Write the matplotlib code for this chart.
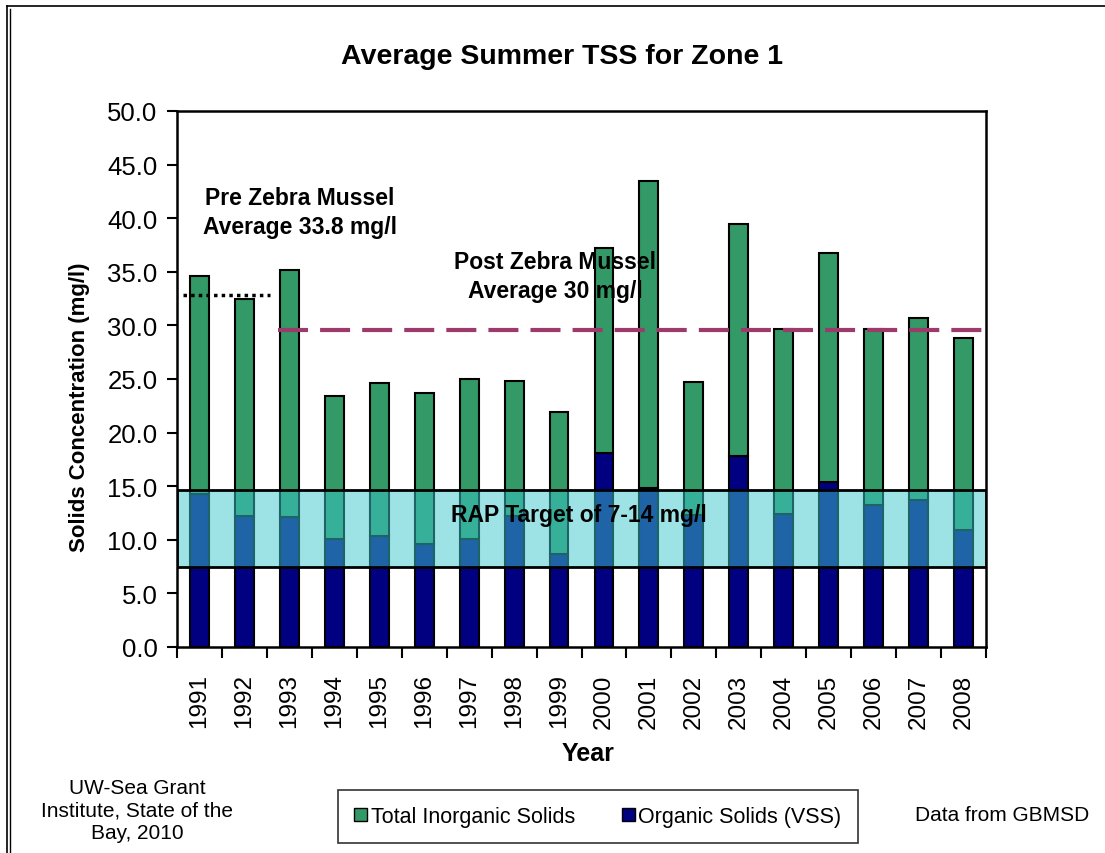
import matplotlib
matplotlib.use("Agg")
import matplotlib.pyplot as plt
from matplotlib.patches import Rectangle
from matplotlib.lines import Line2D
import numpy as np

years = ["1991", "1992", "1993", "1994", "1995", "1996", "1997", "1998", "1999",
         "2000", "2001", "2002", "2003", "2004", "2005", "2006", "2007", "2008"]
total_tss = [34.6, 32.5, 35.2, 23.4, 24.6, 23.7, 25.0, 24.8, 21.9,
             37.2, 43.5, 24.7, 39.5, 29.7, 36.8, 29.7, 30.7, 28.8]
organic = [14.3, 12.25, 12.1, 10.1, 10.4, 9.6, 10.1, 12.2, 8.7,
           18.1, 14.8, 12.3, 17.8, 12.4, 15.4, 13.2, 13.7, 10.9]
inorganic = [round(t - o, 2) for t, o in zip(total_tss, organic)]

pre_avg_line = 32.8
post_avg_line = 29.6
rap_low, rap_high = 7.5, 14.6

plt.rcParams['font.family'] = ['Liberation Sans', 'DejaVu Sans']

fig = plt.figure(figsize=(11.05, 8.54), dpi=100)
ax = fig.add_axes([177/1105, 1-648/854, (986-177)/1105, (648-112)/854])

x = np.arange(len(years))
w = 0.42
ax.bar(x, organic, width=w, color='#000080', edgecolor='black', linewidth=1.5, zorder=2,
       label='Organic Solids (VSS)')
ax.bar(x, inorganic, width=w, bottom=organic, color='#339966', edgecolor='black', linewidth=1.5,
       zorder=2, label='Total Inorganic Solids')

ax.set_xlim(-0.5, len(years) - 0.5)
ax.set_ylim(0, 50)

# RAP target band
ax.add_patch(Rectangle((-0.5, rap_low), len(years), rap_high - rap_low,
                       facecolor=(60/255, 200/255, 205/255, 0.5), edgecolor='black',
                       linewidth=2, zorder=3))
ax.text(8.45, 12.4, "RAP Target of 7-14 mg/l", ha='center', va='center',
        fontsize=16.5, fontweight='bold', zorder=5)

# average lines
ax.plot([-0.37, 1.57], [pre_avg_line, pre_avg_line], color='black', linestyle=(0, (1, 1.2)),
        linewidth=2.5, zorder=4)
ax.plot([1.75, 17.5], [post_avg_line, post_avg_line], color='#9B3A6B', linestyle=(0, (7.2, 2.9)),
        linewidth=3, zorder=4, solid_capstyle='butt', dash_capstyle='butt')

ax.text(2.24, 40.6, "Pre Zebra Mussel\nAverage 33.8 mg/l", ha='center', va='center',
        fontsize=16.5, fontweight='bold', linespacing=1.35, zorder=5)
ax.text(7.91, 34.6, "Post Zebra Mussel\nAverage 30 mg/l", ha='center', va='center',
        fontsize=16.5, fontweight='bold', linespacing=1.35, zorder=5)

# ticks
yt = np.arange(0, 50.1, 5)
ax.set_yticks(yt)
ax.set_yticklabels([f"{v:.1f}" for v in yt])
ax.tick_params(axis='y', direction='out', length=7, width=1.5, pad=7, labelsize=18.5)
ax.set_xticks(x)
ax.set_xticklabels(years, rotation=90)
ax.set_xticks(np.arange(-0.5, len(years), 1), minor=True)
ax.tick_params(axis='x', which='major', length=0, pad=19, labelsize=17.5)
ax.tick_params(axis='x', which='minor', direction='out', length=8, width=1.5)
for s in ax.spines.values():
    s.set_linewidth(1.8)

ax.set_ylabel("Solids Concentration (mg/l)", fontsize=16, fontweight='bold')
ax.yaxis.set_label_coords(-0.1075, 0.45)
ax.set_xlabel("Year", fontsize=18, fontweight='bold')
ax.xaxis.set_label_coords(0.508, -0.175)

fig.text(562/1105, 1-57/854, "Average Summer TSS for Zone 1", ha='center', va='center',
         fontsize=20.5, fontweight='bold')

# legend
handles = [Rectangle((0, 0), 1, 1, facecolor='#339966', edgecolor='black', linewidth=1),
           Rectangle((0, 0), 1, 1, facecolor='#000080', edgecolor='black', linewidth=1)]
leg = fig.legend(handles, ['Total Inorganic Solids', 'Organic Solids (VSS)'],
                 loc='center', bbox_to_anchor=(598/1105, 1-817.5/854), ncol=2,
                 fontsize=15.5, frameon=True, fancybox=False, edgecolor='black',
                 handlelength=0.6, handleheight=0.6, handletextpad=0.15,
                 columnspacing=2.2, borderpad=0.75, borderaxespad=0)
leg.get_frame().set_linewidth(1.2)

fig.text(137/1105, 1-811/854, "UW-Sea Grant\nInstitute, State of the\nBay, 2010", ha='center',
         va='center', fontsize=15, linespacing=1.25)
fig.text(1002/1105, 1-816/854, "Data from GBMSD", ha='center', va='center', fontsize=15)

# figure border
fig.add_artist(Line2D([7/1105, 7/1105], [0, 1-7/854], color='black', linewidth=1.2,
                      transform=fig.transFigure))
fig.add_artist(Line2D([10/1105, 10/1105], [0, 1-10/854], color='black', linewidth=1.0,
                      transform=fig.transFigure))
fig.add_artist(Line2D([7/1105, 1], [1-7/854, 1-7/854], color='black', linewidth=1.2,
                      transform=fig.transFigure))

fig.savefig("out.png", dpi=100, facecolor='white')
